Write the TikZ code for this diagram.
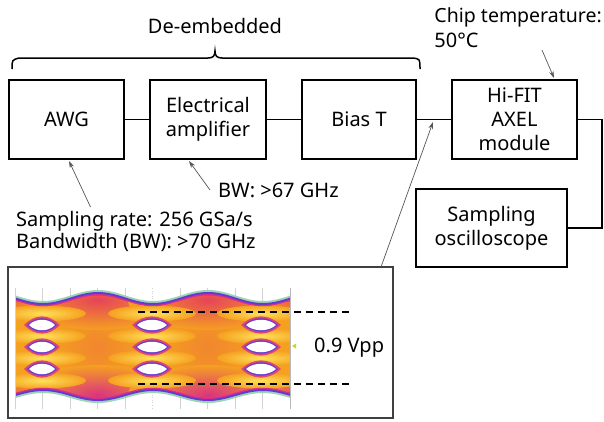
\documentclass[tikz,border=0pt]{standalone}
\usepackage{fontspec}
\setmainfont{Noto Sans}
\usetikzlibrary{arrows.meta,calc}
\definecolor{eyeorange}{HTML}{F5A020}
\definecolor{eyeyellow}{HTML}{FFE25A}
\definecolor{eyered}{HTML}{E84850}
\definecolor{eyemag}{HTML}{D83088}
\definecolor{eyepurple}{HTML}{7A48C8}
\definecolor{eyegreen}{HTML}{9CD4B4}
\definecolor{arrowgray}{HTML}{555555}
\begin{document}
\begin{tikzpicture}[x=1pt,y=-1pt,
  blk/.style={draw=black,line width=1.5pt,inner sep=0pt,align=center,font=\fontsize{20}{24}\selectfont},
  lbl/.style={inner sep=0pt,font=\fontsize{20}{22}\selectfont,align=left},
  conn/.style={line width=1.5pt},
  note/.style={draw=arrowgray,line width=0.7pt,-{Stealth[length=7pt,width=4.5pt]}},
  gridl/.style={gray!35,line width=0.6pt}]
\useasboundingbox (0,0) rectangle (604,421);
\fill[white] (0,0) rectangle (604,421);

% blocks
\node[blk,minimum width=115pt,minimum height=79pt] (awg) at (66.5,119.5) {AWG};
\node[blk,minimum width=116pt,minimum height=79pt] (amp) at (208,119.5) {Electrical\\amplifier};
\node[blk,minimum width=114pt,minimum height=79pt] (bias) at (359,119.5) {Bias T};
\node[blk,minimum width=125pt,minimum height=79pt] (axel) at (514.5,119.5) {Hi-FIT\\AXEL\\module};
\node[blk,minimum width=151pt,minimum height=78pt] (osc) at (491.5,228) {Sampling\\oscilloscope};

\draw[conn] (awg.east) -- (amp.west);
\draw[conn] (amp.east) -- (bias.west);
\draw[conn] (bias.east) -- (axel.west);
\coordinate (c1) at (602,119.5);
\coordinate (c2) at (602,228);
\draw[conn] (axel.east) -- (c1) -- (c2) -- (osc.east);

% brace
\draw[line width=1.5pt] (12,69) .. controls (12,60) .. (19,58) -- (208,58) .. controls (213,58) and (215,56) .. (215,51) .. controls (215,56) and (217,58) .. (222,58) -- (413,58) .. controls (420,59) .. (420,69);
\node[lbl] (deemb) at (215,26) {De-embedded};

% chip temperature
\node[lbl,anchor=east,font=\fontsize{19.5}{22}\selectfont] (chip) at (602,17) {Chip temperature:};
\node[lbl,anchor=west] (temp) at (chip.west |- 0,40) {50°C};
\coordinate (t0) at (542,50);
\coordinate (t1) at (554,78);
\draw[note] (t0) -- (t1);

% annotations
\node[lbl,anchor=west] (bw) at (218,190) {BW: >67 GHz};
\node[lbl,anchor=north west] (samp) at (16,211) {Sampling rate: 256 GSa/s\\Bandwidth (BW): >70 GHz};
\coordinate (a0) at (90.5,207);
\coordinate (a1) at (69,161);
\draw[note] (a0) -- (a1);
\coordinate (b0) at (210,190);
\coordinate (b1) at (189,161);
\draw[note] (b0) -- (b1);

% eye diagram frame
\node[draw=black!75,line width=1.2pt,minimum width=385pt,minimum height=151pt,inner sep=0pt] (eyebox) at (200.5,342.5) {};
\coordinate (e0) at (381,267);
\coordinate (e1) at (433,122);
\draw[note] (e0) -- (e1);

% grid
\foreach \k in {1,2,3,4,6,7,8,9} \draw[gridl] ({15+27.5*\k},288) -- ({15+27.5*\k},409);
\draw[gridl,dotted] (152.5,288) -- (152.5,409);

% envelope layers
\foreach \d/\c in {-2/eyegreen,0/eyepurple!80!blue,2/eyemag,4.5/eyered,8/eyeorange}{
  \fill[\c] plot[domain=15:290,samples=90] (\x,{297.5+5.5*cos(3.2727*(\x-43))+\d})
     -- plot[domain=290:15,samples=90] (\x,{396-5*cos(3.2727*(\x-43))-\d}) -- cycle;
}
\begin{scope}
\clip plot[domain=15:290,samples=90] (\x,{297.5+5.5*cos(3.2727*(\x-43))+3.5})
     -- plot[domain=290:15,samples=90] (\x,{396-5*cos(3.2727*(\x-43))-3.5}) -- cycle;
% faint crossing texture
\foreach \xc in {98,208}{
  \shade[inner color=eyeorange!70!eyered,outer color=eyeorange] (\xc,347) ellipse (50 and 44);
}
% red zones at transitions
\foreach \xc in {98,208}{
  \shade[inner color=eyered!85!eyemag,outer color=eyeorange] (\xc,300) ellipse (80 and 30);
  \shade[inner color=eyemag!85!eyered,outer color=eyeorange] (\xc,395) ellipse (80 and 30);
}
\shade[inner color=eyered!60!eyeorange,outer color=eyeorange] (18,300) ellipse (22 and 16);
\shade[inner color=eyered!60!eyeorange,outer color=eyeorange] (18,394) ellipse (22 and 16);
\shade[inner color=eyered!75!eyeorange,outer color=eyeorange] (292,300) ellipse (34 and 20);
\shade[inner color=eyemag!75!eyeorange,outer color=eyeorange] (292,394) ellipse (34 and 20);
% yellow rails near eye columns
\foreach \xc in {42,152,261}{
  \foreach \yy in {313.5,336,358,380.5}{
    \shade[inner color=eyeyellow,outer color=eyeorange] (\xc,\yy) ellipse (44 and 8);
  }
}
\end{scope}

% eye openings
\foreach \xc/\hw in {42/13,152/15,261/15}{
  \foreach \yc in {325,347,369}{
    \fill[eyemag!80!eyeorange] (\xc-\hw-5,\yc) .. controls (\xc-\hw/2,\yc-11.5) and (\xc+\hw/2,\yc-11.5) .. (\xc+\hw+5,\yc)
       .. controls (\xc+\hw/2,\yc+11.5) and (\xc-\hw/2,\yc+11.5) .. cycle;
    \fill[eyepurple!85!blue] (\xc-\hw-2,\yc) .. controls (\xc-\hw/2,\yc-9) and (\xc+\hw/2,\yc-9) .. (\xc+\hw+2,\yc)
       .. controls (\xc+\hw/2,\yc+9) and (\xc-\hw/2,\yc+9) .. cycle;
    \fill[white] (\xc-\hw,\yc) .. controls (\xc-\hw/2,\yc-7) and (\xc+\hw/2,\yc-7) .. (\xc+\hw,\yc)
       .. controls (\xc+\hw/2,\yc+7) and (\xc-\hw/2,\yc+7) .. cycle;
  }
}
\draw[gridl] (15,288) -- (15,409);
\draw[gray!55,line width=0.8pt] (290,288) -- (290,409);

% dashed levels
\coordinate (d1a) at (138,312);
\coordinate (d1b) at (350,312);
\coordinate (d2a) at (138,384);
\coordinate (d2b) at (350,384);
\draw[line width=1.8pt,dash pattern=on 7pt off 5pt] (d1a) -- (d1b);
\draw[line width=1.8pt,dash pattern=on 7pt off 5pt] (d2a) -- (d2b);

% marker and label
\fill[yellow!75!green] (292,346) -- (296,343.5) -- (296,348.5) -- cycle;
\node[lbl,anchor=west] (vpp) at (314,348) {0.9 Vpp};
\end{tikzpicture}
\end{document}
